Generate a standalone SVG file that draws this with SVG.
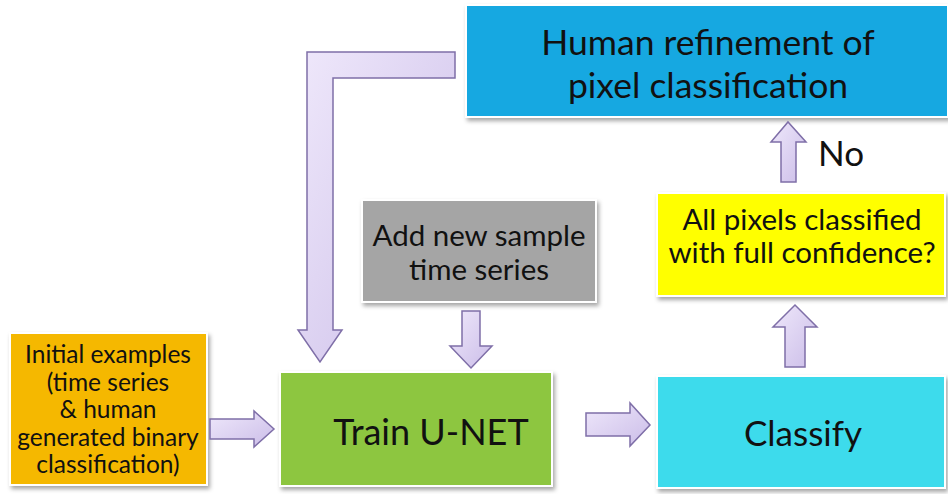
<svg xmlns="http://www.w3.org/2000/svg" width="948" height="494" viewBox="0 0 948 494">
<style>
.box{stroke:#ffffff;stroke-width:2;filter:url(#sh)}
.t{font-family:Lato,"Liberation Sans",sans-serif;fill:#111;text-anchor:middle}
.arr{fill:url(#ag);stroke:#7f6fa8;stroke-width:1.5;stroke-linejoin:miter}
</style>
<defs>
<filter id="sh" x="-5%" y="-5%" width="112%" height="115%">
<feDropShadow dx="2" dy="3" stdDeviation="2" flood-color="#000" flood-opacity="0.35"/>
</filter>
<linearGradient id="ag" x1="0" y1="0" x2="1" y2="1">
<stop offset="0" stop-color="#efe8fb"/>
<stop offset="1" stop-color="#cbbde8"/>
</linearGradient>
</defs>
<rect width="948" height="494" fill="#ffffff"/>
<g id="initial">
<rect class="box" x="10" y="333" width="197" height="152" fill="#f5b800"/>
<text class="t" font-size="24.5"><tspan x="108" y="363">Initial examples</tspan><tspan x="108" y="391">(time series</tspan><tspan x="108" y="418">&amp; human</tspan><tspan x="108" y="446">generated binary</tspan><tspan x="108" y="473">classification)</tspan></text>
</g>
<g id="train">
<rect class="box" x="280" y="372" width="272" height="114" fill="#8dc63f"/>
<text class="t" x="431" y="445" font-size="36">Train U-NET</text>
</g>
<g id="addnew">
<rect class="box" x="362" y="200" width="234" height="102" fill="#a5a5a5"/>
<text class="t" font-size="29.5"><tspan x="479" y="246">Add new sample</tspan><tspan x="479" y="280">time series</tspan></text>
</g>
<g id="refine">
<rect class="box" x="466" y="5" width="482" height="112" fill="#14a8e1"/>
<text class="t" font-size="35.5"><tspan x="708" y="55">Human refinement of</tspan><tspan x="708" y="98">pixel classification</tspan></text>
</g>
<g id="confidence">
<rect class="box" x="657" y="193" width="288" height="103" fill="#ffff00"/>
<text class="t" font-size="29.5"><tspan x="802" y="230">All pixels classified</tspan><tspan x="802" y="263">with full confidence?</tspan></text>
</g>
<g id="classify">
<rect class="box" x="657" y="376" width="288" height="112" fill="#3ddbec"/>
<text class="t" x="803" y="446" font-size="35">Classify</text>
</g>
<g id="connectors">
<path class="arr" d="M210,419 H254 V411 L274,429 L254,447 V439 H210 Z"/>
<path class="arr" d="M586,413 H630 V403 L650,425 L630,446 V436 H586 Z"/>
<path class="arr" d="M462,311 H480 V346 H492 L471,368 L450,346 H462 Z"/>
<path class="arr" d="M785,367 V327 H773 L795,305 L817,327 H805 V367 Z"/>
<path class="arr" d="M781,182 V142 H771 L788,122 L806,142 H796 V182 Z"/>
<path class="arr" d="M455,52 V78 H333 V330 H342 L320,362 L298,330 H307 V52 Z"/>
<text class="t" x="841" y="166" font-size="35">No</text>
</g>
</svg>
